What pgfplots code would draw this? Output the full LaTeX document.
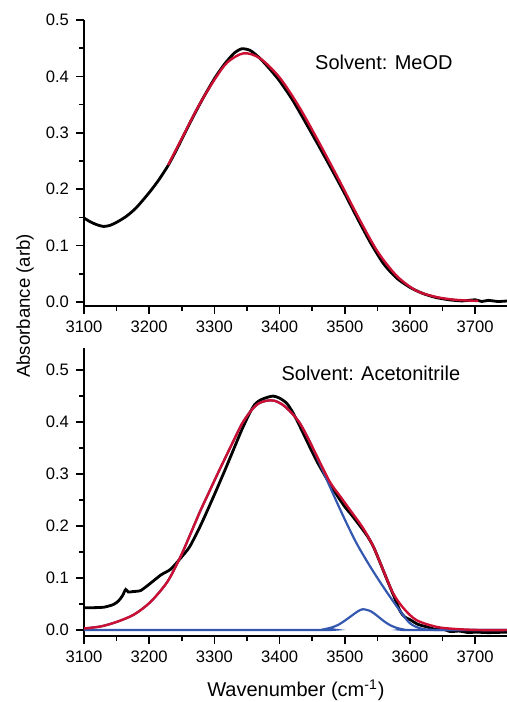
\documentclass[border=0pt]{standalone}
\usepackage{fontspec}
\setmainfont{Liberation Sans}
\usepackage{pgfplots}
\pgfplotsset{compat=1.18}
\definecolor{fitred}{RGB}{204,16,52}
\definecolor{fitblue}{RGB}{52,88,176}

\pgfplotsset{
  panel/.style={
    scale only axis, width=211.9pt,
    xmin=3100, xmax=3750,
    axis x line*=bottom, axis y line*=left,
    axis line style={-, line width=0.9pt},
    tick align=outside,
    major tick length=4pt, minor tick length=2.5pt,
    tick style={line width=0.8pt, black},
    minor x tick num=1, minor y tick num=1,
    xtick={3100,3200,3300,3400,3500,3600,3700},
    ytick={0,0.1,0.2,0.3,0.4,0.5},
    ticklabel style={font=\fontsize{8.3}{10}\selectfont},
    /pgf/number format/assume math mode=true,
    x tick label style={/pgf/number format/.cd, set thousands separator={}},
    y tick label style={/pgf/number format/.cd, fixed, fixed zerofill, precision=1},
    clip=false,
  },
  data/.style={black, line width=1.4pt, smooth, tension=0.4},
  fit/.style={fitred, line width=1.2pt, smooth},
  comp/.style={fitblue, line width=1.1pt, smooth},
}

\begin{document}
\begin{tikzpicture}
\useasboundingbox (-42pt,-198pt) rectangle (211.5pt,153pt);

% top panel: MeOD
\begin{axis}[panel, height=143pt, ymin=-0.007, ymax=0.5]
\addplot[data] coordinates {
 (3100,0.149) (3110,0.142) (3120,0.137) (3130,0.134) (3140,0.136) (3151,0.142)
 (3165,0.152) (3180,0.167) (3200,0.194) (3215,0.217) (3230,0.244) (3245,0.277)
 (3260,0.312) (3280,0.356) (3300,0.396) (3315,0.421) (3330,0.441) (3342,0.449)
 (3355,0.446) (3370,0.432) (3385,0.413) (3400,0.392) (3420,0.358) (3440,0.318)
 (3460,0.277) (3480,0.235) (3500,0.192) (3520,0.147) (3540,0.104) (3560,0.067)
 (3580,0.042) (3600,0.026) (3620,0.015) (3640,0.008) (3660,0.004) (3680,0.002)
 (3700,0.004) (3710,0.001) (3720,0.003) (3735,0.001) (3750,0.002)
};
\addplot[fit] coordinates {
 (3229,0.243) (3250,0.290) (3275,0.346) (3300,0.394) (3320,0.425) (3345,0.441)
 (3370,0.432) (3400,0.398) (3430,0.346) (3460,0.284) (3490,0.219) (3520,0.152)
 (3550,0.090) (3580,0.046) (3610,0.020) (3640,0.009) (3670,0.004) (3705,0.002)
};
\node[font=\fontsize{10}{12}\selectfont] at (axis cs:3560,0.425) {Solvent: MeOD};
\end{axis}

% bottom panel: acetonitrile
\begin{axis}[panel, at={(0,-165pt)}, height=143.9pt, ymin=-0.0115, ymax=0.542,
  xlabel={Wavenumber (cm\textsuperscript{-1})},
  xlabel style={font=\fontsize{10}{12}\selectfont, at={(axis description cs:0.5,0)}, anchor=center, yshift=-27pt}]
\addplot[data] coordinates {
 (3100,0.043) (3115,0.043) (3131,0.044) (3145,0.049) (3153,0.056) (3159,0.066)
 (3164,0.078) (3168,0.073) (3175,0.074) (3187,0.076) (3202,0.090) (3218,0.106)
 (3233,0.117) (3248,0.138) (3262,0.160) (3278,0.199) (3290,0.232) (3303,0.269)
 (3316,0.307) (3329,0.346) (3342,0.385) (3354,0.417) (3362,0.434) (3370,0.442)
 (3380,0.447) (3390,0.450) (3400,0.446) (3411,0.436) (3420,0.419) (3431,0.392)
 (3444,0.358) (3457,0.325) (3470,0.296) (3483,0.269)
 (3500,0.237) (3510,0.222) (3524,0.199) (3535,0.180) (3544,0.160) (3555,0.127)
 (3565,0.096) (3575,0.066) (3585,0.036) (3592,0.025) (3600,0.020) (3612,0.011)
 (3626,0.006) (3640,0.001) (3650,0.002) (3662,-0.003) (3675,-0.002) (3690,-0.005)
 (3700,-0.004) (3720,-0.005) (3750,-0.004)
};
\addplot[comp] coordinates {
 (3100,0.003) (3126,0.007) (3151,0.016) (3177,0.030) (3202,0.054) (3228,0.093)
 (3248,0.141) (3262,0.181) (3278,0.228) (3291,0.263) (3304,0.298) (3317,0.332)
 (3329,0.363) (3342,0.396) (3355,0.420) (3367,0.435) (3380,0.441) (3392,0.441)
 (3405,0.433) (3418,0.418) (3431,0.398) (3444,0.368) (3457,0.333) (3477,0.276)
 (3498,0.218) (3518,0.167) (3539,0.122) (3559,0.083) (3580,0.045) (3600,0.013)
 (3620,0.002) (3650,0.000) (3750,0.000)
};
\addplot[comp] coordinates {
 (3100,0.000) (3460,0.000) (3470,0.002) (3480,0.005) (3490,0.010) (3500,0.018)
 (3510,0.027) (3520,0.036) (3528,0.040) (3540,0.036) (3550,0.027) (3560,0.017)
 (3570,0.009) (3580,0.004) (3590,0.001) (3600,0.000) (3750,0.000)
};
\addplot[fit] coordinates {
 (3100,0.003) (3126,0.007) (3151,0.016) (3177,0.030) (3202,0.054) (3228,0.093)
 (3248,0.141) (3262,0.181) (3278,0.228) (3291,0.263) (3304,0.298) (3317,0.332)
 (3329,0.363) (3342,0.396) (3355,0.420) (3367,0.435) (3380,0.441) (3392,0.441)
 (3405,0.433) (3418,0.418) (3431,0.398) (3444,0.368) (3457,0.335) (3477,0.285)
 (3493,0.257) (3508,0.231) (3528,0.196) (3544,0.160) (3559,0.115) (3574,0.071)
 (3590,0.042) (3610,0.019) (3641,0.006) (3670,0.002) (3707,0.000) (3750,0.000)
};
\node[font=\fontsize{10}{12}\selectfont] at (axis cs:3540,0.494) {Solvent: Acetonitrile};
\end{axis}

\node[rotate=90, font=\fontsize{9.3}{11}\selectfont] at (-29.5pt,0pt) {Absorbance (arb)};
\end{tikzpicture}
\end{document}
